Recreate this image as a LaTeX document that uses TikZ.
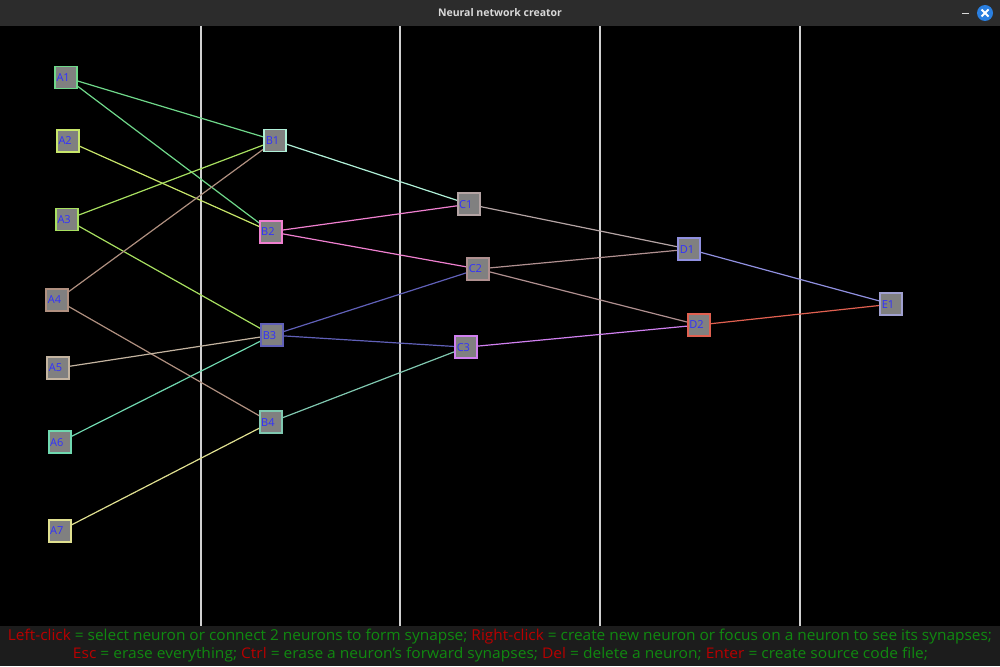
\documentclass[tikz,border=0pt]{standalone}
\usepackage{fontspec}
\setsansfont{Open Sans}
\usetikzlibrary{calc}
\definecolor{cA1}{HTML}{6FD88A}
\definecolor{cA2}{HTML}{C8E66A}
\definecolor{cA3}{HTML}{A8E060}
\definecolor{cA4}{HTML}{B09080}
\definecolor{cA5}{HTML}{C4B4A0}
\definecolor{cA6}{HTML}{70D8B0}
\definecolor{cA7}{HTML}{E0E090}
\definecolor{cB1}{HTML}{B0F0D8}
\definecolor{cB2}{HTML}{F080D0}
\definecolor{cB3}{HTML}{6060B8}
\definecolor{cB4}{HTML}{80C8B0}
\definecolor{cC1}{HTML}{B4A4A4}
\definecolor{cC2}{HTML}{B09090}
\definecolor{cC3}{HTML}{D080F0}
\definecolor{cD1}{HTML}{9090E0}
\definecolor{cD2}{HTML}{E06050}
\definecolor{cE1}{HTML}{A0A0D0}
\definecolor{boxfill}{HTML}{808080}
\definecolor{lbl}{HTML}{3030FF}
\definecolor{titlebg}{HTML}{2C2C2C}
\definecolor{barbg}{HTML}{1C1C1C}
\definecolor{keyred}{HTML}{B80000}
\definecolor{keygreen}{HTML}{108A10}
\definecolor{sep}{HTML}{D0D0D0}
\definecolor{closeblue}{HTML}{2A7FE0}
\tikzset{
  neuron/.style={draw=#1, line width=1.8pt, fill=boxfill, minimum width=22pt, minimum height=22pt,
    inner xsep=1.5pt, inner ysep=0pt, text width=19pt, align=left,
    font=\sffamily\fontsize{11}{11}\selectfont, text=lbl},
  syn/.style={draw=#1, line width=1.2pt},
  sepline/.style={draw=sep, line width=1.5pt},
  helptext/.style={anchor=base, inner sep=0pt, font=\sffamily},
}
\begin{document}
\begin{tikzpicture}[x=1pt,y=-1pt]
\useasboundingbox (0,0) rectangle (1000,666);
\fill[black] (0,0) rectangle (1000,666);
% title bar
\fill[titlebg] (0,0) rectangle (1000,26);
\node[text=white!85!black, font=\sffamily\bfseries\fontsize{10.5}{11}\selectfont] (title) at (500,13) {Neural network creator};
\draw[white!85!black, line width=1.5pt] (962,13.5) -- (969,13.5);
\fill[closeblue] (985,13) circle (8);
\draw[white, line width=1.8pt] (981.5,9.5) -- (988.5,16.5) (988.5,9.5) -- (981.5,16.5);
% separators
\foreach \x in {201,400,600,800} \draw[sepline] (\x,26) -- (\x,626);
% bottom bar
\fill[barbg] (0,626) rectangle (1000,666);
% neuron positions
\coordinate (pA1) at (66,77.5);
\coordinate (pA2) at (68,141);
\coordinate (pA3) at (67,219.5);
\coordinate (pA4) at (57.3,300);
\coordinate (pA5) at (58.3,368);
\coordinate (pA6) at (59.7,442.3);
\coordinate (pA7) at (59.7,531);
\coordinate (pB1) at (275.3,140.5);
\coordinate (pB2) at (270.7,231.7);
\coordinate (pB3) at (272.3,335.2);
\coordinate (pB4) at (270.7,422.3);
\coordinate (pC1) at (468.7,204.2);
\coordinate (pC2) at (478.3,269);
\coordinate (pC3) at (466.3,347.2);
\coordinate (pD1) at (689.3,249.2);
\coordinate (pD2) at (698.8,325);
\coordinate (pE1) at (891.3,304.2);
% synapses
\draw[syn=cA1] (pA1) -- (pB1);
\draw[syn=cA1] (pA1) -- (pB2);
\draw[syn=cA2] (pA2) -- (pB2);
\draw[syn=cA3] (pA3) -- (pB1);
\draw[syn=cA3] (pA3) -- (pB3);
\draw[syn=cA4] (pA4) -- (pB1);
\draw[syn=cA4] (pA4) -- (pB4);
\draw[syn=cA5] (pA5) -- (pB3);
\draw[syn=cA6] (pA6) -- (pB3);
\draw[syn=cA7] (pA7) -- (pB4);
\draw[syn=cB1] (pB1) -- (pC1);
\draw[syn=cB2] (pB2) -- (pC1);
\draw[syn=cB2] (pB2) -- (pC2);
\draw[syn=cB3] (pB3) -- (pC2);
\draw[syn=cB3] (pB3) -- (pC3);
\draw[syn=cB4] (pB4) -- (pC3);
\draw[syn=cC1] (pC1) -- (pD1);
\draw[syn=cC2] (pC2) -- (pD1);
\draw[syn=cC2] (pC2) -- (pD2);
\draw[syn=cC3] (pC3) -- (pD2);
\draw[syn=cD1] (pD1) -- (pE1);
\draw[syn=cD2] (pD2) -- (pE1);
% boxes
\foreach \n in {A1,A2,A3,A4,A5,A6,A7,B1,B2,B3,B4,C1,C2,C3,D1,D2,E1}
  \node[neuron=c\n] (\n) at (p\n) {\n};
% help text
\node[helptext] (help1) at (500,640.7) {\resizebox{984pt}{11.5pt}{\color{keyred}Left-click \color{keygreen}= select neuron or connect 2 neurons to form synapse; \color{keyred}Right-click \color{keygreen}= create new neuron or focus on a neuron to see its synapses;}};
\node[helptext] (help2) at (500.5,658.3) {\resizebox{855pt}{11.2pt}{\color{keyred}Esc \color{keygreen}= erase everything; \color{keyred}Ctrl \color{keygreen}= erase a neuron's forward synapses; \color{keyred}Del \color{keygreen}= delete a neuron; \color{keyred}Enter \color{keygreen}= create source code file;}};
\end{tikzpicture}
\end{document}
